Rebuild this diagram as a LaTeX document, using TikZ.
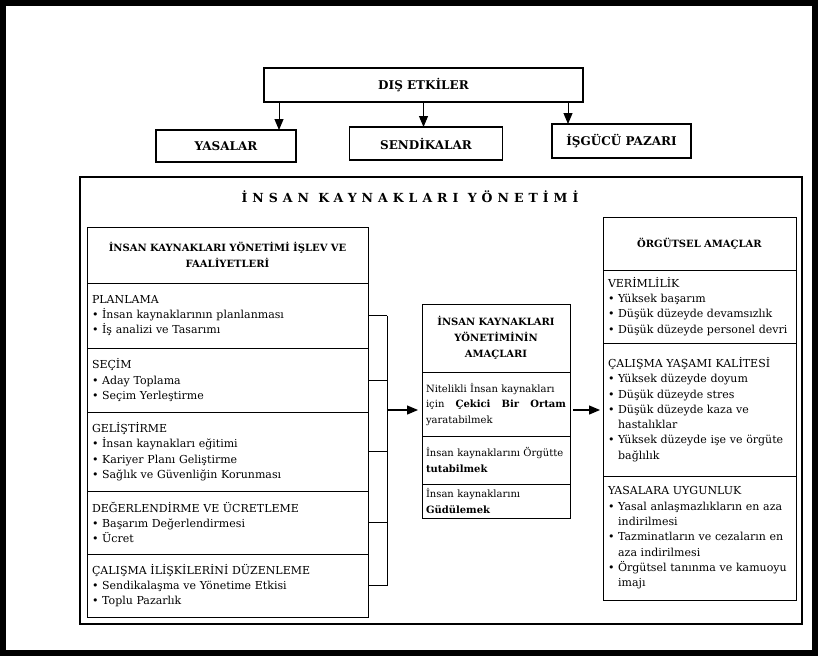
\documentclass[tikz,border=0pt]{standalone}
\usepackage{fontspec}
\setmainfont{DejaVu Serif}
\newfontfamily\spaced[LetterSpace=40]{DejaVu Serif}
\usepackage{tikz}
\usetikzlibrary{positioning,arrows.meta}

\newcommand{\itm}{\textbullet\ }
\newcommand{\cnt}{\hphantom{\textbullet\ }}

\begin{document}
\begin{tikzpicture}[x=1pt, y=-1pt,
    >={Triangle[length=11pt,width=9pt]},
    topbox/.style={draw, line width=1.1pt, outer sep=0pt, minimum height=33pt,
        font=\fontsize{12}{14}\selectfont\bfseries},
    sect/.style={draw, line width=0.9pt, outer sep=0pt, inner xsep=5pt, inner ysep=2pt,
        align=left, font=\fontsize{11}{15.3}\selectfont},
    head/.style={sect, align=center, font=\fontsize{10}{16}\selectfont\bfseries},
    lsec/.style={sect, text width=271pt},
    csec/.style={sect, inner xsep=4pt, text width=140pt, font=\fontsize{10}{15.5}\selectfont},
    rsec/.style={sect, text width=183pt},
    node distance=0pt
]
    \useasboundingbox (0,0) rectangle (818,656);
    
    % Thick outer border
    \draw[line width=6pt] (3,3) rectangle (815,653);
    
    % External influences
    \node[topbox, minimum width=319pt, minimum height=34pt] (dis) at (423.5,85) {DIŞ ETKİLER};
    \node[topbox, minimum width=140pt, minimum height=32pt] (yas) at (226,146) {YASALAR};
    \node[topbox, minimum width=153pt] (sen) at (426,143.5) {SENDİKALAR};
    \node[topbox, minimum width=139pt, minimum height=34pt] (isg) at (621.5,141) {İŞGÜCÜ PAZARI};
    
    \draw[->, line width=1pt] ([xshift=15pt]dis.south west) -- ([xshift=15pt]dis.south west |- yas.north);
    \draw[->, line width=1pt] (dis.south) -- (dis.south |- sen.north);
    \draw[->, line width=1pt] ([xshift=-15pt]dis.south east) -- ([xshift=-15pt]dis.south east |- isg.north);
    
    % Main frame and title
    \node[draw, line width=1.1pt, outer sep=0pt, minimum width=722pt, minimum height=447pt] (frame) at (441,400.5) {};
    \node[font=\fontsize{12.5}{14}\selectfont\spaced\bfseries] (title) at (410,197) {İNSAN KAYNAKLARI YÖNETİMİ};
    
    % Functions and activities
    \node[head, text width=271pt, minimum height=56pt, anchor=north west] (lhead) at (87,227)
        {İNSAN KAYNAKLARI YÖNETİMİ İŞLEV VE\\FAALİYETLERİ};
    \node[lsec, minimum height=65pt, below=of lhead] (plan)
        {PLANLAMA\\\itm İnsan kaynaklarının planlanması\\\itm İş analizi ve Tasarımı};
    \node[lsec, minimum height=64pt, below=of plan] (secim)
        {SEÇİM\\\itm Aday Toplama\\\itm Seçim Yerleştirme};
    \node[lsec, minimum height=79pt, below=of secim] (gelis)
        {GELİŞTİRME\\\itm İnsan kaynakları eğitimi\\\itm Kariyer Planı Geliştirme\\\itm Sağlık ve Güvenliğin Korunması};
    \node[lsec, minimum height=63pt, below=of gelis] (deger)
        {DEĞERLENDİRME VE ÜCRETLEME\\\itm Başarım Değerlendirmesi\\\itm Ücret};
    \node[lsec, minimum height=63pt, below=of deger] (calis)
        {ÇALIŞMA İLİŞKİLERİNİ DÜZENLEME\\\itm Sendikalaşma ve Yönetime Etkisi\\\itm Toplu Pazarlık};
    
    % Bracket
    \foreach \s in {plan,secim,gelis,deger,calis} {
        \draw[line width=0.9pt] (\s.east) -- ++(19,0);
    }
    \draw[line width=0.9pt] ([xshift=19pt]plan.east) -- ([xshift=19pt]calis.east);
    \coordinate (brk) at (387,410);
    
    % Aims of HRM
    \node[head, text width=138pt, minimum height=68pt, anchor=north west] (chead) at (422,304)
        {İNSAN KAYNAKLARI\\YÖNETİMİNİN\\AMAÇLARI};
    \node[csec, minimum height=64pt, below=of chead] (cone)
        {\mbox{Nitelikli İnsan kaynakları}\\için\hfill\textbf{Çekici}\hfill\textbf{Bir}\hfill\textbf{Ortam}\\yaratabilmek};
    \node[csec, minimum height=48pt, below=of cone] (ctwo)
        {\mbox{İnsan kaynaklarını Örgütte}\\\textbf{tutabilmek}};
    \node[csec, minimum height=34pt, below=of ctwo] (cthree)
        {İnsan kaynaklarını\\\textbf{Güdülemek}};
    
    % Organisational aims
    \node[head, text width=183pt, minimum height=53pt, anchor=north west] (rhead) at (603,217)
        {ÖRGÜTSEL AMAÇLAR};
    \node[rsec, minimum height=73pt, below=of rhead] (verim)
        {VERİMLİLİK\\\itm Yüksek başarım\\\itm Düşük düzeyde devamsızlık\\\itm Düşük düzeyde personel devri};
    \node[rsec, minimum height=133pt, below=of verim] (kalite)
        {ÇALIŞMA YAŞAMI KALİTESİ\\\itm Yüksek düzeyde doyum\\\itm Düşük düzeyde stres\\\itm Düşük düzeyde kaza ve\\\cnt hastalıklar\\\itm Yüksek düzeyde işe ve örgüte\\\cnt bağlılık};
    \node[rsec, minimum height=124pt, below=of kalite] (yasal)
        {YASALARA UYGUNLUK\\\itm Yasal anlaşmazlıkların en aza\\\cnt indirilmesi\\\itm Tazminatların ve cezaların en\\\cnt aza indirilmesi\\\itm Örgütsel tanınma ve kamuoyu\\\cnt imajı};
    
    % Arrows between blocks
    \draw[->, line width=1.2pt, shorten >=4pt] (brk) -- (brk -| cone.west);
    \draw[->, line width=1.2pt, shorten <=3pt, shorten >=3pt] (brk -| cone.east) -- (brk -| rhead.west);
    
\end{tikzpicture}
\end{document}
